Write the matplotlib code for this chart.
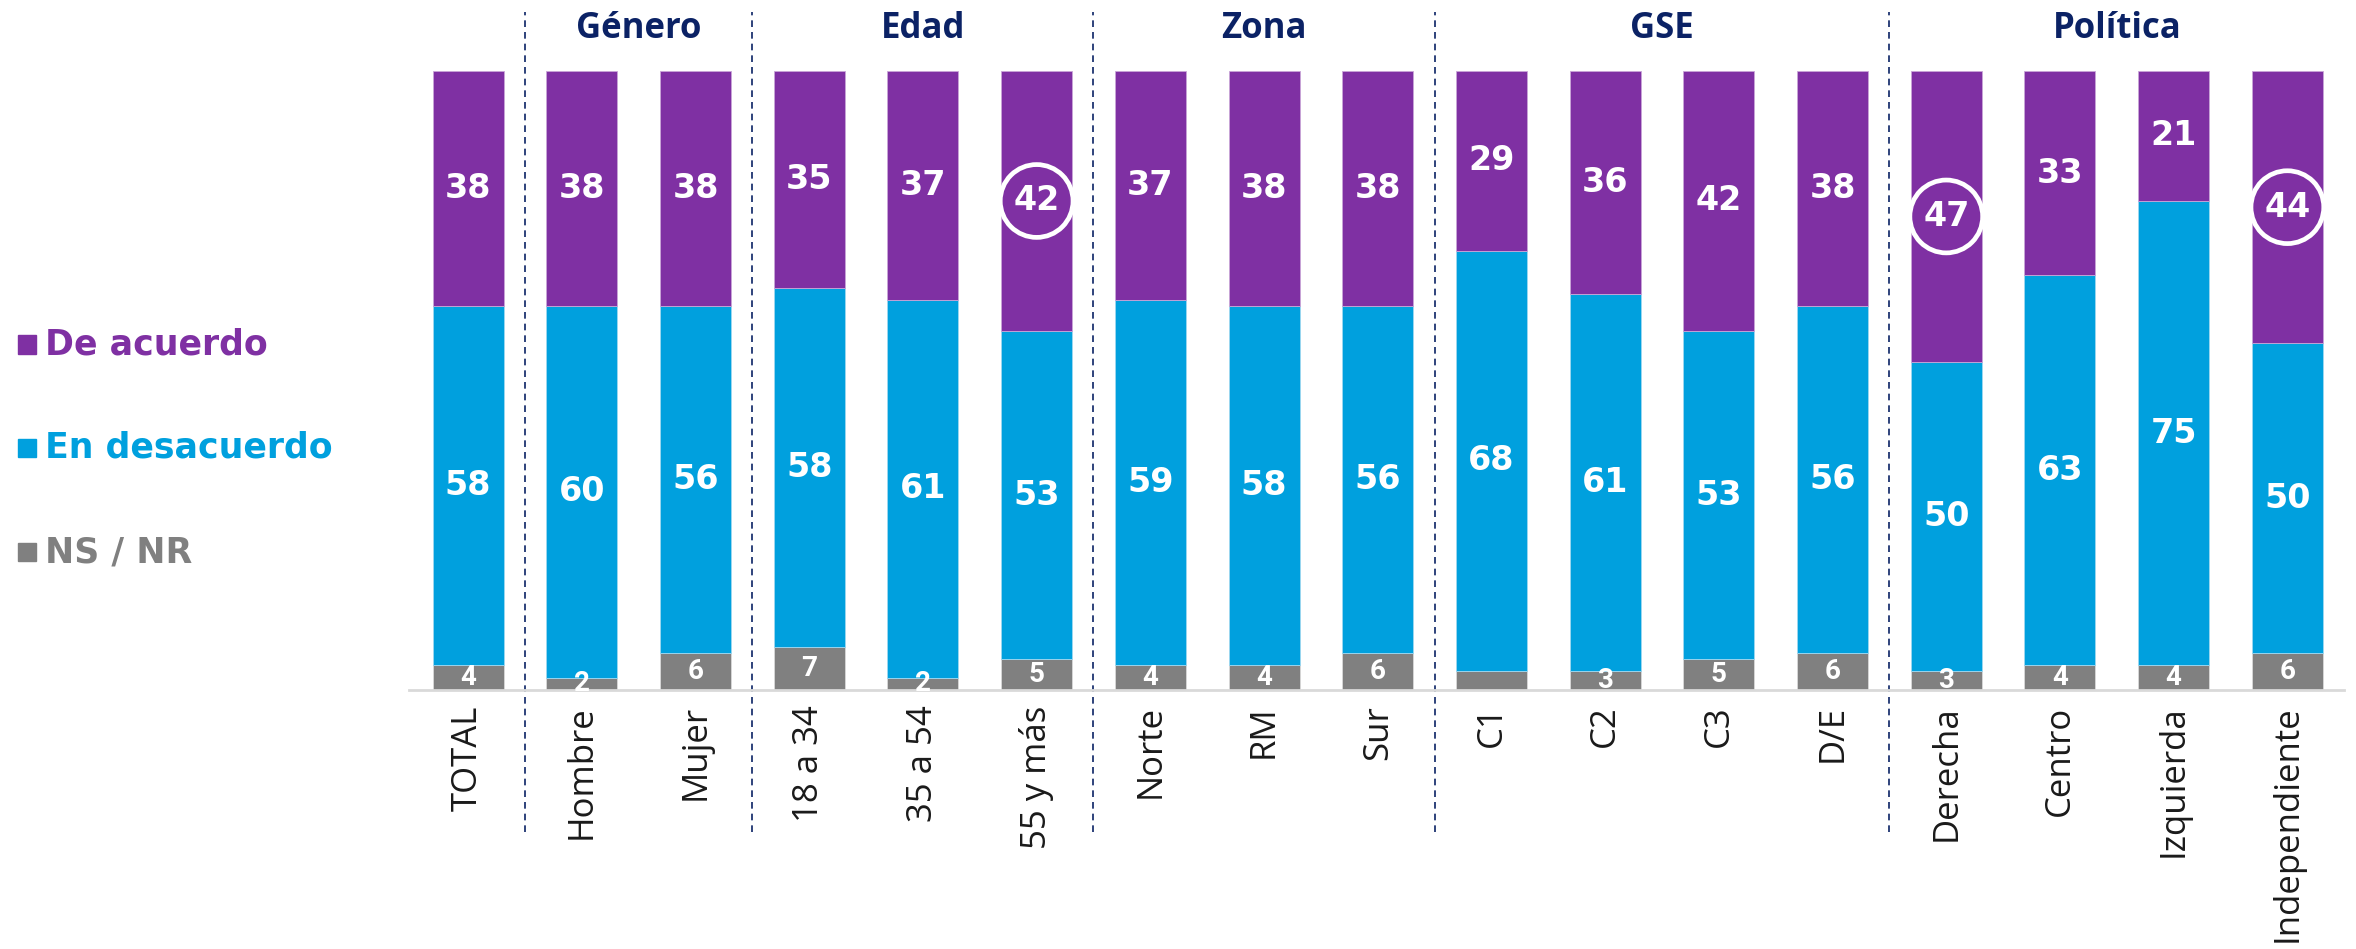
import numpy as np
import matplotlib.pyplot as plt
from matplotlib.patches import Rectangle

# data
categorias = ['TOTAL', 'Hombre', 'Mujer', '18 a 34', '35 a 54', '55 y más',
              'Norte', 'RM', 'Sur', 'C1', 'C2', 'C3', 'D/E',
              'Derecha', 'Centro', 'Izquierda', 'Independiente']
de_acuerdo = [38, 38, 38, 35, 37, 42, 37, 38, 38, 29, 36, 42, 38, 47, 33, 21, 44]
en_desacuerdo = [58, 60, 56, 58, 61, 53, 59, 58, 56, 68, 61, 53, 56, 50, 63, 75, 50]
ns_nr = [4, 2, 6, 7, 2, 5, 4, 4, 6, 3, 3, 5, 6, 3, 4, 4, 6]
ns_visible = [True] * 17
ns_visible[9] = False  # C1 has no label
destacados = [5, 13, 16]  # circled values

grupos = ['Género', 'Edad', 'Zona', 'GSE', 'Política']
grupo_centros = [1.5, 4, 7, 10.5, 14.5]
divisores = [0.5, 2.5, 5.5, 8.5, 12.5]

series = ['De acuerdo', 'En desacuerdo', 'NS / NR']
colores = ['#7F30A3', '#00A0DE', '#808080']
navy = '#0B2265'

plt.rcParams['font.family'] = ['Open Sans', 'DejaVu Sans']
bold_font = ['DejaVu Sans']

fig = plt.figure(figsize=(23.56, 9.49), dpi=100)
ax = fig.add_axes([0.1736, 0.2729, 0.8214, 0.6523])

x = np.arange(len(categorias))
ns = np.array(ns_nr)
des = np.array(en_desacuerdo)
ag = np.array(de_acuerdo)
w = 0.625

ax.bar(x, ns, w, color=colores[2], edgecolor='#d9d9d9', linewidth=0.6)
ax.bar(x, des, w, bottom=ns, color=colores[1], edgecolor='#9fd8f0', linewidth=0.6)
ax.bar(x, ag, w, bottom=ns + des, color=colores[0], edgecolor='#c9a6d8', linewidth=0.6)

for i in x:
    ax.text(i, ns[i] + des[i] + ag[i] / 2, str(ag[i]), color='white', fontsize=24,
            fontweight='bold', ha='center', va='center', family=bold_font)
    ax.text(i, ns[i] + des[i] / 2, str(des[i]), color='white', fontsize=24,
            fontweight='bold', ha='center', va='center', family=bold_font)
    if ns_visible[i]:
        ax.text(i, ns[i] / 2, str(ns[i]), color='white', fontsize=20,
                fontweight='bold', ha='center', va='center',
                family=['Roboto', 'DejaVu Sans'], clip_on=False)

# circled highlights
dx = [i for i in destacados]
dy = [ns[i] + des[i] + ag[i] / 2 for i in destacados]
ax.scatter(dx, dy, s=2750, facecolors='none', edgecolors='white',
           linewidths=3.4, zorder=5, clip_on=False)

ax.set_xlim(-0.52, 16.5)
ax.set_ylim(0, 100)
for s in ['top', 'right', 'left']:
    ax.spines[s].set_visible(False)
ax.spines['bottom'].set_color('#d9d9d9')
ax.spines['bottom'].set_linewidth(2)
ax.set_yticks([])
ax.set_xticks(x)
ax.set_xticklabels(categorias, rotation=90, fontsize=25, color='#1a1a1a')
ax.tick_params(axis='x', length=0, pad=11)

for d in divisores:
    ax.plot([d, d], [-23, 109.5], ls=(0, (4, 3)), color=navy, lw=1.2, clip_on=False)

for g, gx in zip(grupos, grupo_centros):
    ax.text(gx, 106.8, g, color=navy, fontsize=25, fontweight='bold',
            ha='center', va='center', clip_on=False)

# legend
leg_y = [0.637, 0.528, 0.418]
for s, c, ly in zip(series, colores, leg_y):
    fig.patches.append(Rectangle((0.0077, ly - 0.0095), 0.0077, 0.019,
                                 transform=fig.transFigure, color=c))
    fig.text(0.019, ly, s, color=c, fontsize=25, fontweight='bold', va='center',
             family=bold_font)

fig.savefig('out.png', dpi=100)
